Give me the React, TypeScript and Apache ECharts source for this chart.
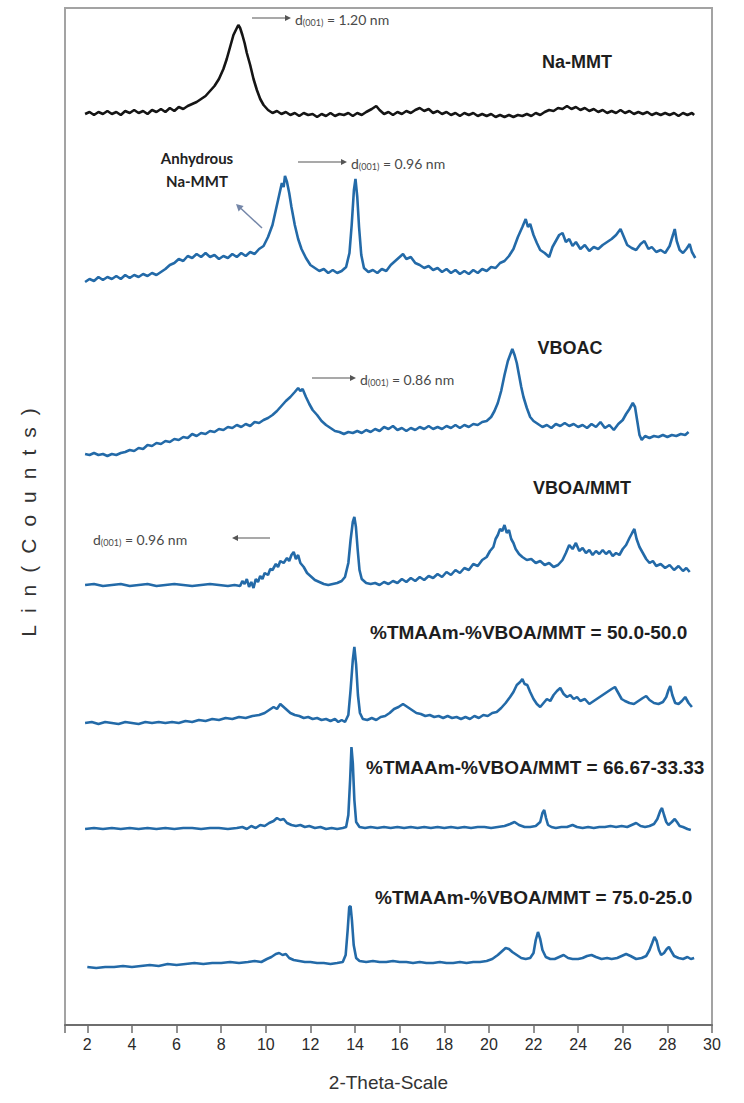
import React, { useEffect, useRef } from "react";
import * as echarts from "echarts";

// 2θ axis
const THETA_LABELS = [2, 4, 6, 8, 10, 12, 14, 16, 18, 20, 22, 24, 26, 28, 30];
const THETA_TICKS = [1, 2, 4, 6, 8, 10, 12, 14, 16, 18, 20, 22, 24, 26, 28, 30];

// Stacked intensities (Lin counts, offset traces), [2θ, value]
const naMMT: number[][] = [[1.9,911],[2.1,913],[2.3,910],[2.5,913],[2.7,911],[2.9,914],[3.1,911],[3.3,913],[3.5,910],[3.7,914],[3.9,912],[4.1,915],[4.3,912],[4.5,914],[4.7,911],[4.9,915],[5.1,913],[5.3,916],[5.5,913],[5.7,917],[5.9,914],[6.1,918],[6.3,916],[6.5,919],[6.7,921],[6.9,923],[7.1,926],[7.3,929],[7.5,934],[7.7,939],[7.9,946],[8.1,956],[8.25,966],[8.4,978],[8.55,990],[8.68,996],[8.77,1000],[8.85,997],[8.95,990],[9.05,982],[9.15,972],[9.3,960],[9.45,946],[9.6,935],[9.75,926],[9.9,920],[10.1,915],[10.3,912],[10.5,914],[10.7,911],[10.9,913],[11.1,910],[11.3,912],[11.5,909],[11.7,912],[11.9,910],[12.1,911],[12.3,908],[12.5,911],[12.7,909],[12.9,912],[13.1,909],[13.3,911],[13.5,910],[13.7,912],[13.9,909],[14.1,912],[14.3,910],[14.5,913],[14.75,916],[14.95,919],[15.1,915],[15.3,911],[15.5,913],[15.7,910],[15.9,913],[16.1,911],[16.3,914],[16.5,912],[16.7,915],[16.9,917],[17.1,914],[17.3,916],[17.5,912],[17.7,914],[17.9,911],[18.1,913],[18.3,910],[18.5,912],[18.7,909],[18.9,912],[19.1,910],[19.3,912],[19.5,909],[19.7,911],[19.9,909],[20.1,911],[20.3,908],[20.5,910],[20.7,908],[20.9,910],[21.1,908],[21.3,910],[21.5,909],[21.7,911],[21.9,909],[22.1,912],[22.3,910],[22.5,913],[22.7,915],[22.9,914],[23.1,917],[23.3,916],[23.5,919],[23.7,916],[23.9,918],[24.1,915],[24.3,917],[24.5,914],[24.7,916],[24.9,913],[25.1,915],[25.3,912],[25.5,914],[25.7,912],[25.9,915],[26.1,912],[26.3,914],[26.5,911],[26.7,913],[26.9,911],[27.1,913],[27.3,910],[27.5,912],[27.7,910],[27.9,912],[28.1,910],[28.3,912],[28.5,909],[28.7,912],[28.9,910],[29.1,912],[29.2,910]];

const anhydrous: number[][] = [[1.9,743],[2.1,746],[2.3,744],[2.5,748],[2.7,745],[2.9,748],[3.1,746],[3.3,749],[3.5,746],[3.7,750],[3.9,747],[4.1,750],[4.3,748],[4.5,751],[4.7,749],[4.9,752],[5.1,750],[5.3,753],[5.5,756],[5.7,760],[5.9,762],[6.1,766],[6.3,764],[6.5,769],[6.7,767],[6.9,771],[7.1,768],[7.3,772],[7.5,768],[7.7,770],[7.9,766],[8.1,769],[8.3,767],[8.5,771],[8.7,768],[8.9,772],[9.1,769],[9.3,773],[9.5,771],[9.7,776],[9.9,779],[10.1,788],[10.3,800],[10.45,815],[10.6,830],[10.72,842],[10.8,838],[10.86,849],[10.95,843],[11.05,832],[11.15,818],[11.3,800],[11.45,786],[11.6,776],[11.8,767],[12.0,760],[12.2,757],[12.4,754],[12.6,756],[12.8,752],[13.0,755],[13.2,752],[13.4,754],[13.6,758],[13.75,772],[13.85,800],[13.95,835],[14.02,846],[14.1,828],[14.18,798],[14.28,770],[14.4,757],[14.6,753],[14.8,755],[15.0,752],[15.2,756],[15.4,754],[15.6,760],[15.8,764],[16.0,768],[16.15,771],[16.3,766],[16.5,768],[16.7,762],[16.9,760],[17.1,757],[17.3,759],[17.5,755],[17.7,757],[17.9,753],[18.1,756],[18.3,752],[18.5,755],[18.7,751],[18.9,754],[19.1,751],[19.3,755],[19.5,752],[19.7,756],[19.9,754],[20.1,758],[20.3,757],[20.5,762],[20.7,764],[20.9,769],[21.1,776],[21.3,788],[21.5,798],[21.65,806],[21.75,798],[21.85,801],[22.0,790],[22.15,782],[22.3,775],[22.5,772],[22.7,768],[22.85,778],[23.0,784],[23.15,790],[23.3,792],[23.45,783],[23.6,786],[23.75,779],[23.9,783],[24.1,776],[24.3,780],[24.5,774],[24.7,778],[24.9,776],[25.1,780],[25.3,783],[25.5,786],[25.7,790],[25.9,796],[26.05,788],[26.2,780],[26.4,777],[26.6,775],[26.8,781],[26.97,784],[27.15,776],[27.3,778],[27.5,773],[27.7,775],[27.9,772],[28.1,779],[28.25,790],[28.33,796],[28.42,784],[28.55,775],[28.7,772],[28.85,776],[29.0,781],[29.1,773],[29.25,767]];

const vboac: number[][] = [[1.9,571],[2.1,570],[2.3,572],[2.5,570],[2.7,571],[2.9,569],[3.1,571],[3.3,570],[3.5,572],[3.7,573],[3.9,575],[4.1,574],[4.3,577],[4.5,576],[4.7,580],[4.9,579],[5.1,582],[5.3,581],[5.5,584],[5.7,583],[5.9,586],[6.1,585],[6.3,588],[6.5,587],[6.7,591],[6.9,589],[7.1,592],[7.3,591],[7.5,594],[7.7,593],[7.9,596],[8.1,595],[8.3,598],[8.5,597],[8.7,600],[8.9,598],[9.1,601],[9.3,599],[9.5,603],[9.7,602],[9.9,605],[10.1,607],[10.3,610],[10.5,614],[10.7,619],[10.9,624],[11.1,628],[11.3,633],[11.45,637],[11.55,634],[11.65,636],[11.8,628],[11.95,621],[12.1,615],[12.3,610],[12.5,604],[12.7,600],[12.9,597],[13.1,594],[13.3,593],[13.5,591],[13.7,593],[13.9,592],[14.1,594],[14.3,592],[14.5,595],[14.7,593],[14.9,596],[15.1,594],[15.3,598],[15.5,596],[15.7,599],[15.9,595],[16.1,597],[16.3,594],[16.5,597],[16.7,595],[16.9,598],[17.1,596],[17.3,599],[17.5,596],[17.7,598],[17.9,596],[18.1,599],[18.3,597],[18.5,600],[18.7,597],[18.9,600],[19.1,598],[19.3,601],[19.5,600],[19.7,603],[19.9,604],[20.1,608],[20.25,614],[20.4,622],[20.55,634],[20.7,650],[20.85,664],[20.95,670],[21.05,676],[21.15,670],[21.25,662],[21.35,650],[21.45,638],[21.55,628],[21.7,617],[21.85,608],[22.0,604],[22.2,601],[22.4,598],[22.6,600],[22.8,597],[23.0,601],[23.2,599],[23.4,602],[23.6,599],[23.8,601],[24.0,598],[24.2,600],[24.4,597],[24.6,601],[24.8,598],[25.0,603],[25.2,597],[25.4,600],[25.6,595],[25.8,601],[26.0,605],[26.15,611],[26.3,616],[26.45,622],[26.55,618],[26.65,604],[26.75,590],[26.85,585],[27.0,589],[27.2,587],[27.4,589],[27.6,588],[27.8,590],[28.0,588],[28.2,590],[28.4,589],[28.6,591],[28.8,590],[28.95,593]];

const vboaMMT: number[][] = [[1.9,440],[2.3,441],[2.7,439],[3.1,440],[3.5,441],[3.9,439],[4.3,440],[4.7,441],[5.1,439],[5.5,440],[5.9,441],[6.3,440],[6.7,439],[7.1,440],[7.5,441],[7.9,440],[8.3,439],[8.6,440],[8.85,439],[8.95,444],[9.05,441],[9.15,446],[9.25,438],[9.35,443],[9.45,437],[9.55,446],[9.65,443],[9.75,449],[9.85,446],[9.95,452],[10.1,450],[10.2,456],[10.3,455],[10.45,461],[10.55,458],[10.65,464],[10.8,462],[10.95,467],[11.05,464],[11.15,470],[11.25,473],[11.35,466],[11.45,470],[11.55,462],[11.7,458],[11.85,452],[12.0,449],[12.2,445],[12.4,443],[12.6,441],[12.8,440],[13.0,441],[13.2,442],[13.4,444],[13.55,448],[13.7,462],[13.8,485],[13.9,503],[13.97,508],[14.04,498],[14.12,475],[14.2,455],[14.3,446],[14.5,442],[14.7,441],[14.9,442],[15.1,440],[15.3,443],[15.5,441],[15.7,444],[15.9,442],[16.1,446],[16.3,443],[16.5,447],[16.7,444],[16.9,448],[17.1,445],[17.3,449],[17.5,447],[17.7,451],[17.9,448],[18.1,453],[18.3,450],[18.5,455],[18.7,452],[18.9,457],[19.1,455],[19.3,461],[19.5,459],[19.7,465],[19.9,468],[20.05,474],[20.2,478],[20.3,486],[20.4,490],[20.5,496],[20.6,494],[20.7,500],[20.8,492],[20.9,495],[21.0,486],[21.1,482],[21.2,476],[21.35,471],[21.5,468],[21.7,465],[21.9,466],[22.1,462],[22.3,464],[22.5,460],[22.7,462],[22.9,458],[23.1,460],[23.3,465],[23.45,472],[23.6,480],[23.75,476],[23.9,482],[24.05,474],[24.2,477],[24.35,472],[24.5,475],[24.65,470],[24.8,474],[24.95,471],[25.1,475],[25.25,471],[25.4,474],[25.55,469],[25.7,472],[25.85,470],[26.0,476],[26.15,480],[26.3,487],[26.42,492],[26.52,496],[26.62,486],[26.75,478],[26.9,472],[27.05,466],[27.2,462],[27.35,464],[27.5,459],[27.7,461],[27.9,457],[28.1,460],[28.3,455],[28.5,459],[28.7,454],[28.85,457],[29.0,453]];

const tm50: number[][] = [[1.9,302],[2.2,303],[2.5,301],[2.8,303],[3.1,302],[3.4,301],[3.7,303],[4.0,302],[4.3,301],[4.6,303],[4.9,302],[5.2,303],[5.5,302],[5.8,303],[6.1,302],[6.4,304],[6.7,303],[7.0,305],[7.3,304],[7.6,306],[7.9,305],[8.2,307],[8.5,306],[8.8,308],[9.1,307],[9.4,309],[9.7,310],[9.95,312],[10.15,315],[10.35,318],[10.5,316],[10.65,321],[10.8,318],[10.95,315],[11.1,312],[11.3,310],[11.5,309],[11.7,307],[11.9,308],[12.1,306],[12.3,307],[12.5,305],[12.7,306],[12.9,304],[13.1,306],[13.25,303],[13.4,305],[13.55,303],[13.7,310],[13.8,335],[13.9,365],[13.97,378],[14.05,360],[14.13,330],[14.22,312],[14.35,306],[14.55,305],[14.75,307],[14.95,305],[15.15,308],[15.35,309],[15.55,312],[15.75,316],[15.95,318],[16.15,321],[16.35,318],[16.55,315],[16.75,312],[16.95,311],[17.15,309],[17.35,310],[17.55,308],[17.75,309],[17.95,307],[18.15,309],[18.35,307],[18.55,308],[18.75,306],[18.95,308],[19.15,306],[19.35,309],[19.55,307],[19.75,310],[19.95,309],[20.15,312],[20.35,313],[20.55,317],[20.75,322],[20.95,328],[21.1,333],[21.25,340],[21.4,343],[21.5,346],[21.6,341],[21.72,340],[21.85,333],[22.0,326],[22.15,321],[22.3,318],[22.45,322],[22.6,326],[22.75,324],[22.9,330],[23.05,334],[23.2,337],[23.35,331],[23.5,328],[23.65,330],[23.8,326],[23.95,328],[24.1,324],[24.3,326],[24.5,321],[24.7,324],[24.9,327],[25.1,330],[25.3,333],[25.5,336],[25.65,338],[25.8,332],[25.95,326],[26.1,324],[26.3,322],[26.5,321],[26.7,324],[26.9,327],[27.05,329],[27.2,325],[27.4,322],[27.6,321],[27.8,323],[27.95,328],[28.05,335],[28.13,339],[28.22,330],[28.35,322],[28.5,321],[28.65,324],[28.8,328],[28.95,322],[29.1,318]];

const tm66: number[][] = [[1.9,196],[2.3,197],[2.7,196],[3.1,197],[3.5,196],[3.9,197],[4.3,196],[4.7,197],[5.1,196],[5.5,197],[5.9,196],[6.3,197],[6.7,197],[7.1,196],[7.5,197],[7.9,197],[8.3,196],[8.7,197],[8.95,198],[9.15,196],[9.35,199],[9.55,197],[9.75,200],[9.95,199],[10.15,202],[10.35,204],[10.5,207],[10.65,205],[10.8,206],[10.95,202],[11.15,200],[11.35,199],[11.55,200],[11.75,198],[11.95,199],[12.2,197],[12.45,198],[12.7,196],[12.95,197],[13.2,196],[13.45,197],[13.6,198],[13.7,210],[13.78,245],[13.84,278],[13.9,262],[13.97,225],[14.05,203],[14.2,198],[14.45,197],[14.7,198],[15.0,197],[15.3,198],[15.6,197],[15.9,198],[16.2,197],[16.5,198],[16.8,197],[17.1,198],[17.4,197],[17.7,198],[18.0,197],[18.3,198],[18.6,197],[18.9,198],[19.2,197],[19.5,198],[19.8,198],[20.1,197],[20.4,198],[20.7,199],[20.95,201],[21.15,203],[21.35,200],[21.6,198],[21.85,198],[22.1,199],[22.3,203],[22.4,212],[22.48,215],[22.56,207],[22.65,200],[22.8,198],[23.0,197],[23.25,198],[23.5,198],[23.75,200],[23.95,198],[24.2,197],[24.45,198],[24.7,197],[24.95,198],[25.2,198],[25.45,199],[25.7,198],[25.95,199],[26.2,198],[26.4,200],[26.6,202],[26.8,199],[27.0,198],[27.2,199],[27.4,201],[27.55,206],[27.68,214],[27.76,217],[27.85,210],[27.95,203],[28.05,200],[28.2,203],[28.33,206],[28.43,203],[28.55,199],[28.7,198],[28.9,196],[29.05,195]];

const tm75: number[][] = [[2.0,58],[2.4,57],[2.8,58],[3.2,58],[3.6,59],[4.0,58],[4.4,59],[4.8,60],[5.2,59],[5.6,61],[6.0,60],[6.4,61],[6.8,62],[7.2,61],[7.6,62],[8.0,62],[8.4,63],[8.8,62],[9.2,63],[9.5,64],[9.8,63],[10.05,66],[10.25,68],[10.45,71],[10.6,72],[10.75,70],[10.9,71],[11.05,67],[11.25,65],[11.5,64],[11.75,63],[12.0,63],[12.3,62],[12.6,62],[12.9,61],[13.2,62],[13.45,63],[13.58,70],[13.67,95],[13.74,118],[13.8,119],[13.86,105],[13.94,80],[14.05,67],[14.2,64],[14.5,63],[14.8,64],[15.1,63],[15.4,63],[15.7,64],[16.0,63],[16.3,63],[16.6,62],[16.9,63],[17.2,62],[17.5,62],[17.8,63],[18.1,62],[18.4,62],[18.7,63],[19.0,62],[19.3,63],[19.6,63],[19.9,64],[20.15,66],[20.4,70],[20.6,74],[20.75,77],[20.9,76],[21.05,73],[21.25,70],[21.45,67],[21.65,66],[21.85,67],[22.0,72],[22.1,85],[22.2,93],[22.3,86],[22.4,75],[22.55,68],[22.75,66],[22.95,66],[23.15,68],[23.35,70],[23.55,67],[23.75,66],[24.0,66],[24.2,67],[24.4,69],[24.6,70],[24.8,68],[25.05,66],[25.3,67],[25.5,66],[25.75,67],[25.95,69],[26.15,71],[26.35,69],[26.6,66],[26.85,67],[27.05,69],[27.2,75],[27.32,82],[27.42,88],[27.52,84],[27.62,75],[27.72,70],[27.85,72],[27.97,76],[28.07,78],[28.17,74],[28.3,69],[28.5,67],[28.7,66],[28.9,68],[29.05,66],[29.2,67]];

const SERIES_NAMES = [
  "Na-MMT",
  "Anhydrous Na-MMT",
  "VBOAC",
  "VBOA/MMT",
  "%TMAAm-%VBOA/MMT = 50.0-50.0",
  "%TMAAm-%VBOA/MMT = 66.67-33.33",
  "%TMAAm-%VBOA/MMT = 75.0-25.0",
];
const SERIES_DATA = [naMMT, anhydrous, vboac, vboaMMT, tm50, tm66, tm75];
const SERIES_COLORS = ["#151515", "#236aa8", "#236aa8", "#236aa8", "#236aa8", "#236aa8", "#236aa8"];

const SANS = "'Liberation Sans', Arial, sans-serif";
const ANNO = "Lato, 'Open Sans', sans-serif";

function dLabel(x: number, y: number, value: string, align: string = "left") {
  return {
    type: "text",
    x,
    y,
    z: 10,
    style: {
      text: `{a|d}{b|(001)}{a|) = ${value}}`.replace("{a|) = ", "{a| = "),
      align,
      verticalAlign: "middle",
      textAlign: align,
      textVerticalAlign: "middle",
      rich: {
        a: { fontSize: 14, fontFamily: ANNO, fill: "#4a4a4a", color: "#4a4a4a", lineHeight: 17, verticalAlign: "bottom" },
        b: { fontSize: 9, fontFamily: ANNO, fill: "#4a4a4a", color: "#4a4a4a", lineHeight: 17, verticalAlign: "bottom" },
      },
    },
  };
}

function hArrow(x1: number, x2: number, y: number) {
  const dir = x2 > x1 ? 1 : -1;
  return [
    { type: "line", z: 10, shape: { x1, y1: y, x2: x2 - dir * 5, y2: y }, style: { stroke: "#555", lineWidth: 1.2 } },
    {
      type: "polygon",
      z: 10,
      shape: { points: [[x2, y], [x2 - dir * 6, y - 3], [x2 - dir * 6, y + 3]] },
      style: { fill: "#555" },
    },
  ];
}

function boldLabel(x: number, y: number, text: string, size: number, align: string = "center") {
  return {
    type: "text",
    x,
    y,
    z: 10,
    style: {
      text,
      fontSize: size,
      fontWeight: "bold",
      fontFamily: SANS,
      fill: "#1e1e1e",
      align,
      verticalAlign: "middle",
      textAlign: align,
      textVerticalAlign: "middle",
    },
  };
}

export default function App() {
  const ref = useRef<HTMLDivElement>(null);

  useEffect(() => {
    document.body.style.margin = "0";
    const el = ref.current!;
    const chart = echarts.init(el, null, { renderer: "svg" });

    const graphic: any[] = [
      boldLabel(577, 62, "Na-MMT", 18),
      ...hArrow(252, 291, 18),
      dLabel(295, 18, "1.20 nm"),
      {
        type: "text",
        x: 197,
        y: 169,
        z: 10,
        style: {
          text: "Anhydrous\nNa-MMT",
          fontSize: 15,
          fontWeight: "bold",
          fontFamily: ANNO,
          fill: "#222",
          lineHeight: 23,
          align: "center",
          verticalAlign: "middle",
          textAlign: "center",
          textVerticalAlign: "middle",
        },
      },
      { type: "line", z: 10, shape: { x1: 262, y1: 228, x2: 241, y2: 208.5 }, style: { stroke: "#7486a8", lineWidth: 1.5 } },
      { type: "polygon", z: 10, shape: { points: [[236, 204], [243.6, 206], [238.6, 211.4]] }, style: { fill: "#7486a8" } },
      ...hArrow(298, 347, 162),
      dLabel(351, 162, "0.96 nm"),
      boldLabel(570, 348, "VBOAC", 18),
      ...hArrow(312, 356, 378),
      dLabel(360, 378, "0.86 nm"),
      boldLabel(582, 488, "VBOA/MMT", 18),
      dLabel(93, 538, "0.96 nm"),
      ...hArrow(270, 232, 538),
      boldLabel(370, 632, SERIES_NAMES[4], 19, "left"),
      boldLabel(366, 767, SERIES_NAMES[5], 19, "left"),
      boldLabel(375, 897, SERIES_NAMES[6], 19, "left"),
    ];

    const option: any = {
      animation: false,
      backgroundColor: "#ffffff",
      grid: {
        left: 65,
        right: 32,
        top: 8,
        bottom: 78,
        show: true,
        borderColor: "#a3a3a3",
        borderWidth: 2,
        backgroundColor: "transparent",
      },
      xAxis: {
        type: "value",
        min: 1,
        max: 30,
        name: "2-Theta-Scale",
        nameLocation: "middle",
        nameGap: 48,
        nameTextStyle: { fontSize: 19, color: "#333", fontFamily: SANS },
        axisLine: { show: true, lineStyle: { color: "#6e6e6e", width: 2 } },
        axisTick: {
          show: true,
          customValues: THETA_TICKS,
          length: 8,
          lineStyle: { color: "#6e6e6e", width: 1.5 },
        },
        axisLabel: {
          show: true,
          customValues: THETA_LABELS,
          fontSize: 16,
          color: "#2a2a2a",
          fontFamily: SANS,
          margin: 11,
        },
        splitLine: { show: false },
      },
      yAxis: {
        type: "value",
        min: 0,
        max: 1017,
        name: "Lin(Counts)",
        nameLocation: "middle",
        nameRotate: 90,
        nameGap: 26,
        nameTextStyle: { fontSize: 21, color: "#333", fontFamily: SANS },
        axisLine: { show: false },
        axisTick: { show: false },
        axisLabel: { show: false },
        splitLine: { show: false },
      },
      series: SERIES_DATA.map((d, i) => ({
        type: "line",
        name: SERIES_NAMES[i],
        data: d,
        showSymbol: false,
        symbol: "none",
        silent: true,
        lineStyle: { width: 2.6, color: SERIES_COLORS[i] },
        itemStyle: { color: SERIES_COLORS[i] },
      })),
      graphic,
    };

    chart.setOption(option);

    const tweak = () => {
      el.querySelectorAll("text").forEach((t) => {
        if (t.textContent === "Lin(Counts)") {
          t.setAttribute("letter-spacing", "12");
        }
      });
    };
    tweak();
    chart.on("finished", tweak);

    return () => {
      chart.dispose();
    };
  }, []);

  return <div ref={ref} style={{ width: 744, height: 1103 }} />;
}
